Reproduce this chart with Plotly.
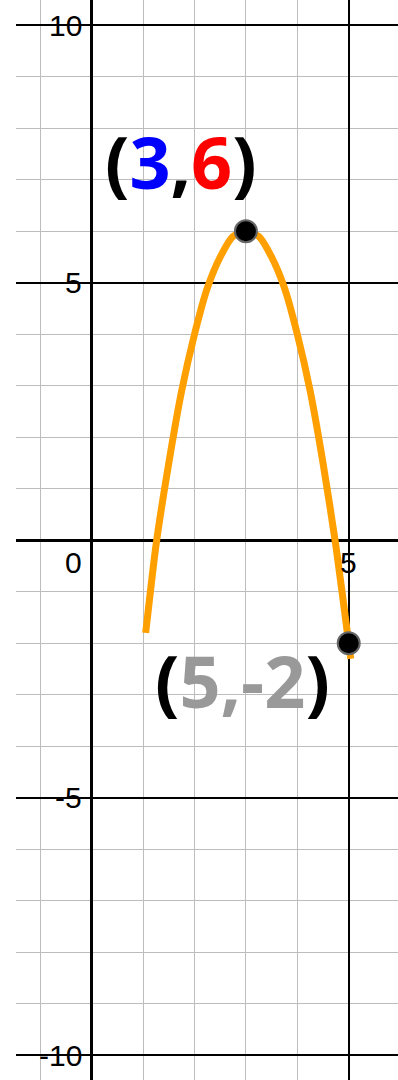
import plotly.graph_objects as go

# Curve points
curve_x = [1.05, 1.25, 1.5, 1.75, 2.0, 2.25, 2.5, 2.75, 3.0, 3.25, 3.5, 3.75, 4.0, 4.25, 4.5, 4.75, 5.0, 5.04]
curve_y = [-1.8, -0.1, 1.5, 2.9, 4.0, 4.9, 5.5, 5.9, 6.0, 5.9, 5.5, 4.9, 4.0, 2.9, 1.5, -0.1, -2.0, -2.3]

# Highlighted points
point_x = [3, 5]
point_y = [6, -2]

# Tick labels
y_tick_vals = [10, 5, -5, -10]
y_tick_text = ["10", "5", "-5", "-10"]
x_tick_vals = [0, 5]
x_tick_text = ["0", "5"]

# Point labels
label_x = [1.74, 2.93]
label_y = [7.37, -2.72]
label_text = [
    "<b>(<span style='color:#0000ff'>3</span>,<span style='color:#ff0000'>6</span>)</b>",
    "<b>(<span style='color:#999999'>5,-2</span>)</b>",
]

fig = go.Figure()
fig.add_trace(go.Scatter(
    x=curve_x, y=curve_y, mode="lines",
    line=dict(color="#ffa000", width=7, shape="spline", smoothing=0.6),
    hoverinfo="skip", showlegend=False,
))
fig.add_trace(go.Scatter(
    x=point_x, y=point_y, mode="markers",
    marker=dict(color="black", size=22, line=dict(color="#666666", width=2)),
    hoverinfo="skip", showlegend=False,
))

annotations = []
for v, t in zip(y_tick_vals, y_tick_text):
    annotations.append(dict(x=0, y=v, text=t, showarrow=False, xanchor="right",
                            yanchor="middle", xshift=-8,
                            font=dict(family="Liberation Sans, Arial", size=30, color="black")))
for v, t in zip(x_tick_vals, x_tick_text):
    annotations.append(dict(x=v, y=0, text=t, showarrow=False,
                            xanchor="right" if v == 0 else "center",
                            yanchor="middle", xshift=-8 if v == 0 else 0, yshift=-22,
                            font=dict(family="Liberation Sans, Arial", size=30, color="black")))
for x, y, t in zip(label_x, label_y, label_text):
    annotations.append(dict(x=x, y=y, text=t, showarrow=False, xanchor="center",
                            yanchor="middle",
                            font=dict(family="Open Sans", size=72, color="black")))

fig.update_layout(
    width=398, height=1080,
    margin=dict(l=16, r=0, t=0, b=0),
    plot_bgcolor="white", paper_bgcolor="white",
    annotations=annotations,
    xaxis=dict(range=[-1.473, 5.959], dtick=5, tick0=0, showgrid=True,
               gridcolor="black", gridwidth=2, zeroline=True, zerolinecolor="black",
               zerolinewidth=3, showticklabels=False, ticks="", showline=False,
               minor=dict(dtick=1, tick0=0, showgrid=True, gridcolor="#bdbdbd", gridwidth=1.3)),
    yaxis=dict(range=[-10.48, 10.49], dtick=5, tick0=0, showgrid=True,
               gridcolor="black", gridwidth=2, zeroline=True, zerolinecolor="black",
               zerolinewidth=3, showticklabels=False, ticks="", showline=False,
               minor=dict(dtick=1, tick0=0, showgrid=True, gridcolor="#bdbdbd", gridwidth=1.3)),
)

fig.write_html("out.html", config={"displayModeBar": False},
               post_script="document.body.style.margin='0';")
